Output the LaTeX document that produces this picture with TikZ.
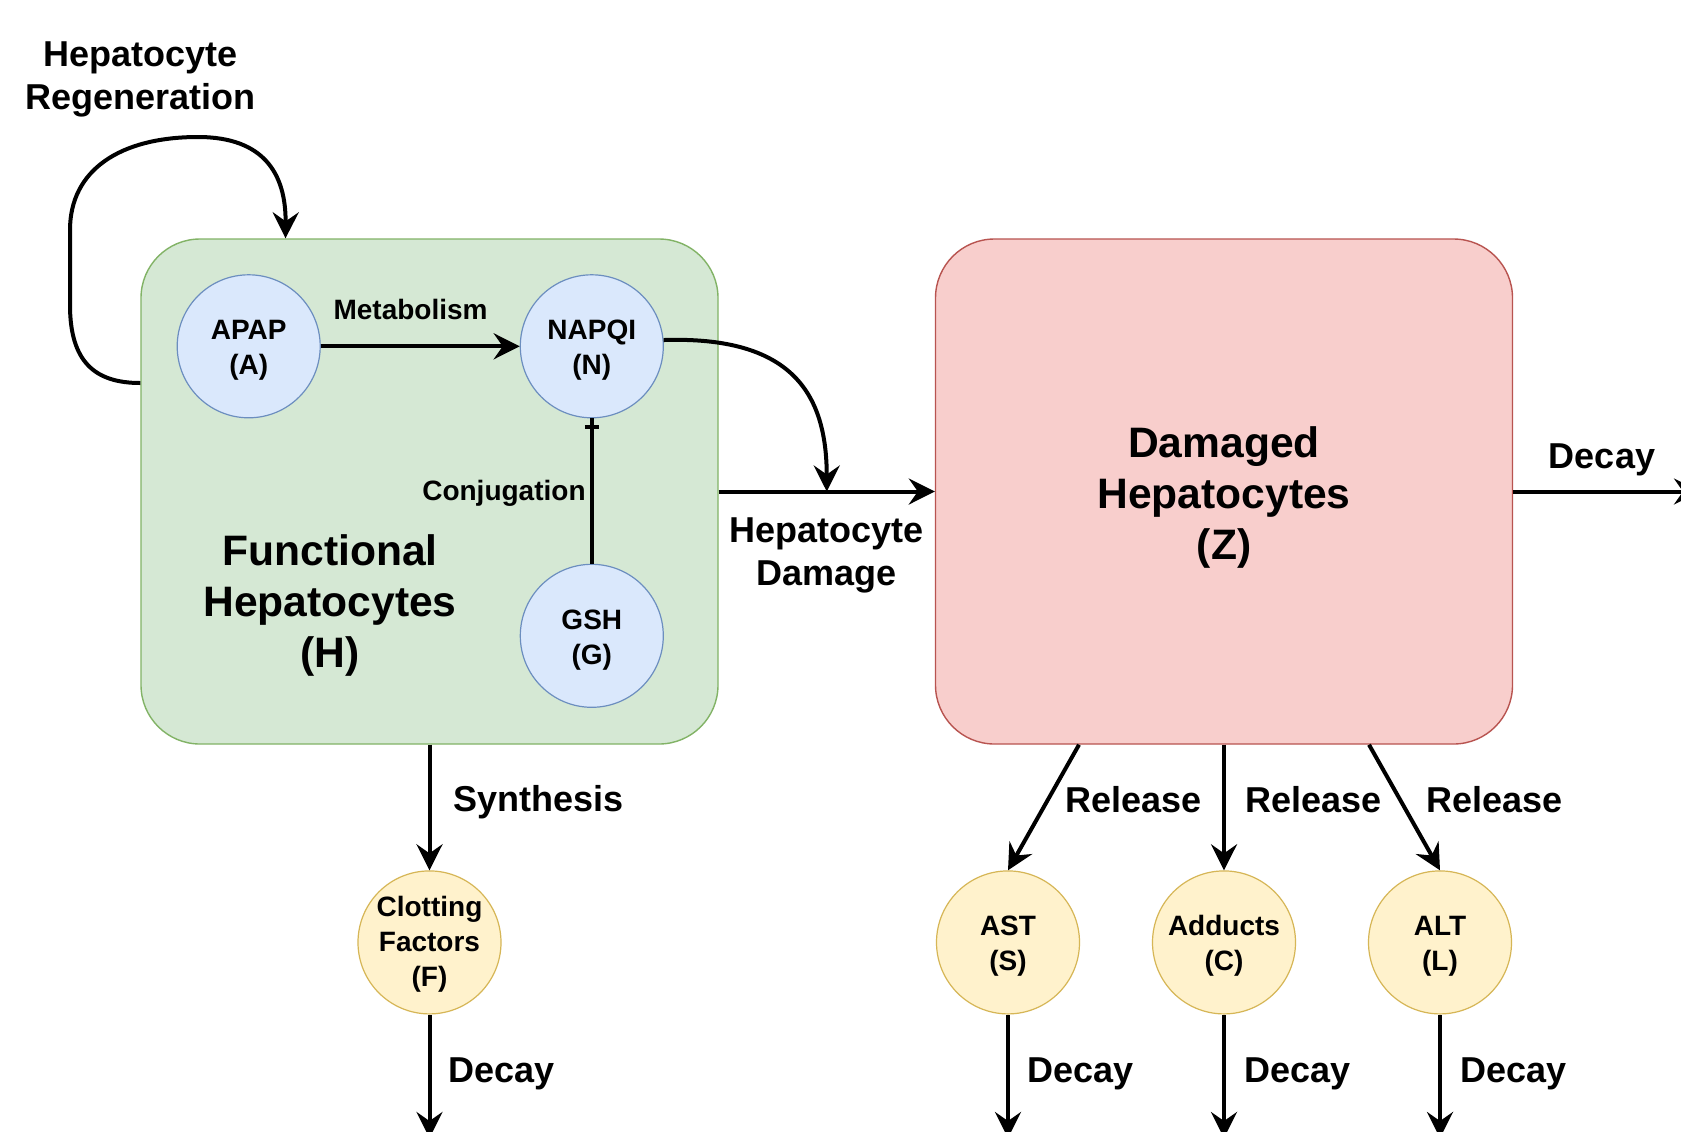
\documentclass[tikz,border=0pt]{standalone}
\usepackage{fontspec}
\setmainfont{Liberation Sans}
\usetikzlibrary{arrows.meta,calc}
\definecolor{gfill}{HTML}{D5E8D4}
\definecolor{gline}{HTML}{82B366}
\definecolor{rfill}{HTML}{F8CECC}
\definecolor{rline}{HTML}{B85450}
\definecolor{bfill}{HTML}{DAE8FC}
\definecolor{bline}{HTML}{6C8EBF}
\definecolor{yfill}{HTML}{FFF2CC}
\definecolor{yline}{HTML}{D6B656}
\begin{document}
\begin{tikzpicture}[x=0.5pt,y=-0.5pt,
  arr/.style={line width=2pt,-{Stealth[length=13pt,width=13pt,inset=4.5pt]}},
  conn/.style={line width=2pt},
  bigbox/.style={rectangle,rounded corners=29.5pt,minimum width=288.5pt,minimum height=252.5pt,line width=0.7pt},
  circ/.style={circle,minimum size=71.5pt,inner sep=0pt,line width=0.6pt},
  ctext/.style={inner sep=0pt,align=center,font=\bfseries\fontsize{14}{17.5}\selectfont},
  bcirc/.style={circ,fill=bfill,draw=bline},
  ycirc/.style={circ,fill=yfill,draw=yline},
  small/.style={inner sep=0pt,font=\bfseries\fontsize{14}{17}\selectfont},
  mid/.style={inner sep=0pt,align=center,font=\bfseries\fontsize{18}{21.5}\selectfont},
  big/.style={inner sep=0pt,align=center,font=\bfseries\fontsize{21.3}{25.5}\selectfont}]
\useasboundingbox (0,0) rectangle (1681,1131);
\clip (0,0) rectangle (1681,1131);
\fill[white] (0,0) rectangle (1681,1131);
% boxes
\node[bigbox,fill=gfill,draw=gline] (H) at (429.5,491.5) {};
\node[bigbox,fill=rfill,draw=rline,label={[big,yshift=-3pt]center:{Damaged\\Hepatocytes\\(Z)}}] (Z) at (1224,491.5) {};
% circles
\node[bcirc,label={[ctext,yshift=-2.1pt]center:{APAP\\(A)}}] (A) at (248.7,346.3) {};
\node[bcirc,label={[ctext,yshift=-2.1pt]center:{NAPQI\\(N)}}] (N) at (591.8,346.3) {};
\node[bcirc,label={[ctext,yshift=-2.1pt]center:{GSH\\(G)}}] (G) at (591.8,635.8) {};
\node[ycirc,label={[ctext,yshift=-1pt]center:{Clotting\\Factors\\(F)}}] (F) at (429.5,942.4) {};
\node[ycirc,label={[ctext,yshift=-1.8pt]center:{AST\\(S)}}] (S) at (1008,942.4) {};
\node[ycirc,label={[ctext,yshift=-1.8pt]center:{Adducts\\(C)}}] (C) at (1224,942.4) {};
\node[ycirc,label={[ctext,yshift=-1.8pt]center:{ALT\\(L)}}] (L) at (1440,942.4) {};
% labels
\node[big] (Hlab) at (330,605.8) {Functional\\Hepatocytes\\(H)};
\node[mid] (regen) at (140.5,79.3) {Hepatocyte\\Regeneration};
\node[mid] (dmglab) at (826.6,555.3) {Hepatocyte\\Damage};
\node[mid] (decZ) at (1602,459.9) {Decay};
\node[small] (metab) at (410.6,309.8) {Metabolism};
\node[small,anchor=east] (conj) at (586,493) {Conjugation};
\node[mid,anchor=west] (synth) at (453.5,801.7) {Synthesis};
\node[mid,anchor=west] (rel1) at (1065,799.7) {Release};
\node[mid,anchor=west] (rel2) at (1245,799.7) {Release};
\node[mid,anchor=west] (rel3) at (1426.5,799.7) {Release};
\node[mid,anchor=west] (decF) at (448,1074.3) {Decay};
\node[mid,anchor=west] (decS) at (1027,1074.3) {Decay};
\node[mid,anchor=west] (decC) at (1243.6,1074.3) {Decay};
\node[mid,anchor=west] (decL) at (1460,1074.3) {Decay};
% coordinates
\coordinate (rs) at ($(H.west)+(0,-108.5)$);
\coordinate (re) at ($(H.north)+(-144,0)$);
\coordinate (hd) at ($(H.east)!0.5!(Z.west)$);
\coordinate (zr) at (1700,491.5);
\coordinate (fd) at (429.5,1138);
\coordinate (sd) at (1008,1138);
\coordinate (cd) at (1224,1138);
\coordinate (ld) at (1440,1138);
% connectors
\draw[arr] (rs) .. controls (95,383) and (70,362) .. (70,305) -- (70,230)
  .. controls (70,170) and (120,137) .. (198,137)
  .. controls (265,137) and (286,175) .. (re);
\draw[arr] (A) -- (N);
\draw[conn] (G) -- (N);
\draw[conn] ($(N.south)+(-7,9)$) -- ($(N.south)+(7,9)$);
\draw[arr] (H.east) -- (Z.west);
\draw[arr] (N.5) .. controls (790,336) and ($(hd)+(0,-100)$) .. (hd);
\draw[arr] (Z.east) -- (zr);
\draw[arr] (H.south) -- (F.north);
\draw[arr] ($(Z.south)+(-145,0)$) -- (S.north);
\draw[arr] (Z.south) -- (C.north);
\draw[arr] ($(Z.south)+(145,0)$) -- (L.north);
\draw[arr] (F.south) -- (fd);
\draw[arr] (S.south) -- (sd);
\draw[arr] (C.south) -- (cd);
\draw[arr] (L.south) -- (ld);
\end{tikzpicture}
\end{document}
